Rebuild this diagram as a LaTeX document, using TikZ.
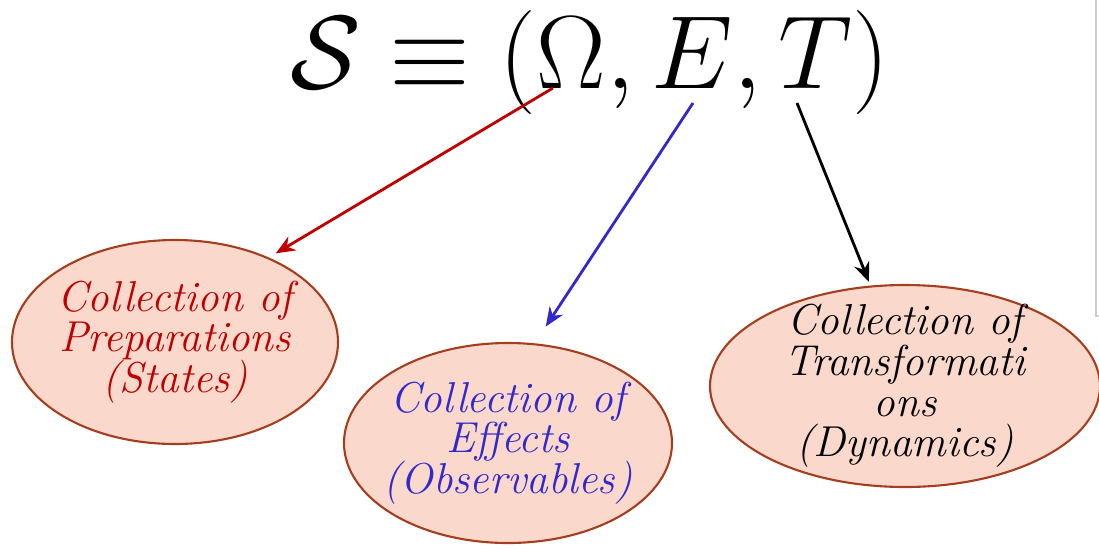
\documentclass[tikz,border=0pt]{standalone}
\usepackage{amsmath,amssymb}
\usetikzlibrary{shapes.geometric, arrows.meta}
\definecolor{fillpink}{RGB}{250,217,204}
\definecolor{rimbrown}{RGB}{165,62,30}
\definecolor{darkred}{RGB}{192,0,0}
\definecolor{deepblue}{RGB}{50,40,205}
\tikzset{
  ellbox/.style={
    ellipse, draw=rimbrown, fill=fillpink, line width=0.6pt,
    inner xsep=-3mm, inner ysep=0pt, align=center,
    font={\fontsize{12.3}{11.6}\selectfont\itshape\lineskiplimit=-6pt}
  },
  link/.style={
    -{Stealth[length=5.5pt,width=4.5pt]}, % arrow tip style
    line width=0.8pt
  }
}

\begin{document}
\begin{tikzpicture}
    % page frame
    \useasboundingbox (0,0) rectangle (10.99,-5.48);
    \draw[gray!40, line width=0.6pt] (10.96,0) -- (10.96,-3.16) -- (10.99,-3.16);

    % The formula
    \node[anchor=base, inner sep=0pt, scale=1.19] (sys) at (5.9,-0.88)
        {\Huge $\mathcal{S}\equiv(\Omega,E,T)$};
    \coordinate (om) at (5.53,-0.88);
    \coordinate (ee) at (6.93,-1.03);
    \coordinate (tt) at (7.97,-1.03);

    % Three collections
    \node[ellbox, minimum width=3.26cm, minimum height=2.04cm, text=darkred]
        (prep) at (1.75,-3.42) {Collection of\\Preparations\\(States)};
    \node[ellbox, minimum width=3.28cm, minimum height=2.0cm, text=deepblue]
        (eff) at (5.08,-4.43) {Collection of\\Effects\\(Observables)};
    \node[ellbox, minimum width=3.9cm, minimum height=2.02cm, inner ysep=-3mm, text=black]
        (trans) at (9.05,-3.86) {Collection of\\Transformati\\ons\\(Dynamics)};

    % Arrows from the symbols
    \draw[link, darkred, shorten >=0.8mm] (om) -- (prep.42);
    \draw[link, deepblue, shorten >=2mm] (ee) -- (eff.75);
    \draw[link, black, shorten >=0.4mm] (tt) -- (trans.109);
\end{tikzpicture}
\end{document}
